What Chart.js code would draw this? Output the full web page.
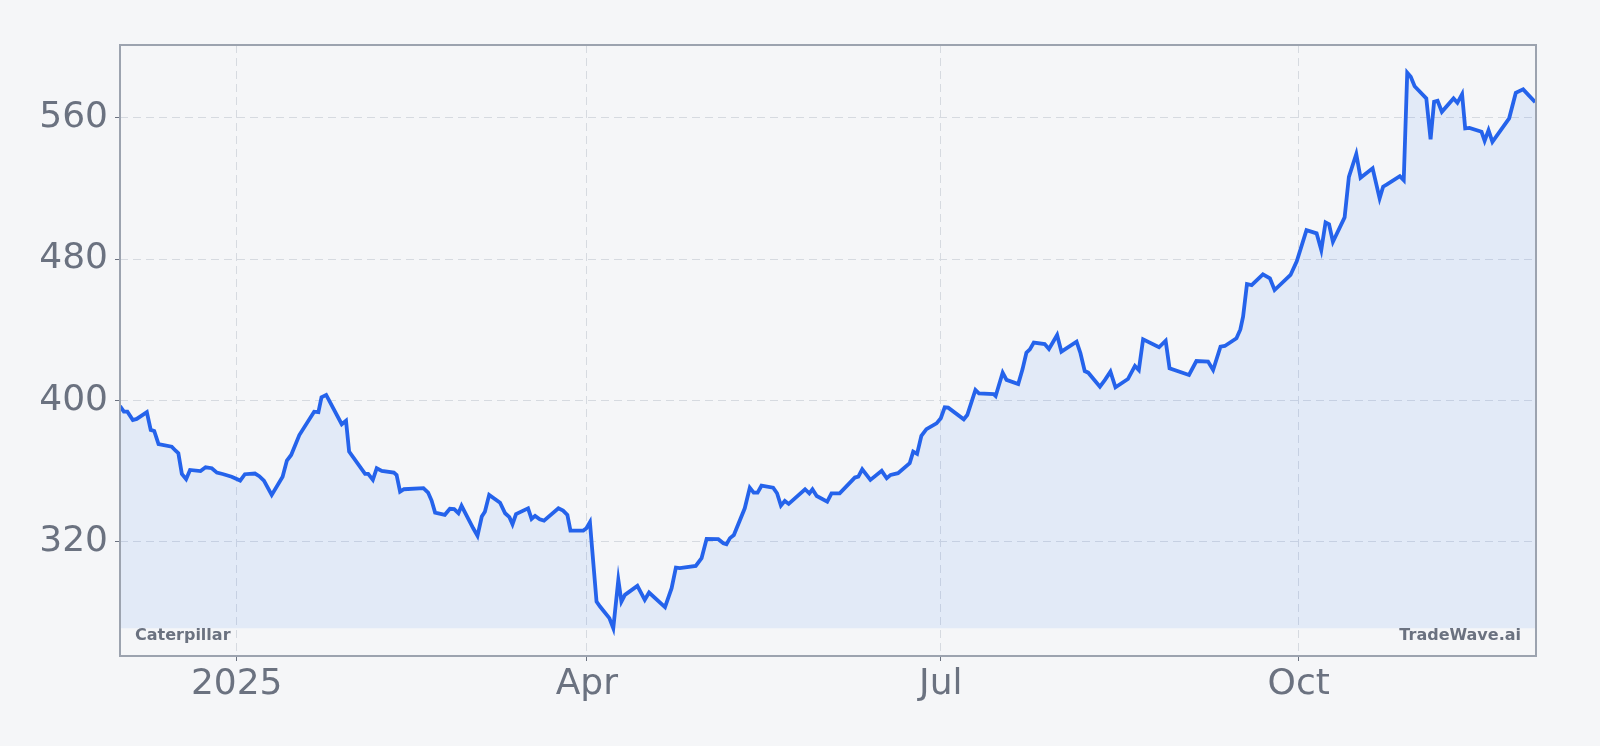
<!DOCTYPE html>
<html>
<head>
<meta charset="utf-8">
<script src="https://cdn.jsdelivr.net/npm/chart.js@4.4.1/dist/chart.umd.min.js"></script>
<style>
html,body{margin:0;padding:0;background:#f5f6f8;}
#wrap{width:1600px;height:746px;position:relative;}
</style>
</head>
<body>
<div id="wrap"><canvas id="c"></canvas></div>
<script>
// Days counted from 2025-01-01 (negative = December 2024)
const days = [
-30.0,-29.0,-28.1,-26.7,-25.7,-23.1,-22.1,-21.2,-20.1,-16.7,-15.7,-15.0,-14.1,-13.0,-12.0,-9.3,-8.0,-6.4,-5.1,-3.4,-1.3,
0.9,2.1,4.7,5.8,7.0,9.0,11.8,12.9,14.0,16.1,19.9,21.0,21.8,23.0,27.0,28.1,28.9,
33.0,33.8,35.0,36.0,37.3,40.4,41.1,42.0,43.0,48.0,49.2,50.1,51.0,53.5,54.8,55.9,57.0,57.8,
60.8,61.9,63.0,63.8,64.9,67.7,69.0,70.1,70.9,71.8,74.9,75.8,76.7,77.9,79.0,82.7,83.9,85.0,85.8,89.1,89.9,
90.8,92.5,93.4,95.8,96.8,98.1,98.9,99.8,103.0,104.9,106.0,110.1,111.8,112.9,113.9,118.0,119.5,
120.8,123.8,125.1,125.9,126.8,127.8,130.6,131.9,132.9,133.9,134.9,137.9,138.9,139.9,140.9,141.9,146.1,147.2,148.0,149.1,
151.8,152.9,155.0,158.9,159.8,160.8,162.9,165.8,167.1,168.1,170.0,173.0,173.9,174.9,176.0,177.3,179.9,
181.0,182.0,182.9,186.9,187.8,189.9,190.8,194.6,195.1,196.9,197.9,200.9,202.0,203.0,203.9,204.9,207.7,208.8,210.9,
212.0,215.9,216.9,218.0,218.9,221.9,223.2,224.6,225.9,229.1,230.9,231.9,233.0,237.1,238.8,239.8,
244.8,246.7,249.7,251.0,252.9,254.0,257.0,258.0,258.7,259.7,260.9,263.8,265.6,266.8,270.9,272.5,
275.0,277.6,278.8,279.9,280.8,281.8,284.8,285.9,287.8,288.9,292.0,293.8,294.7,295.7,299.0,300.0,
300.9,301.8,302.8,305.8,306.9,307.8,308.7,309.8,312.8,313.8,315.0,315.8,316.9,320.0,320.8,321.8,322.8,
327.1,328.8,330.7,333.8
];
const prices = [
396.8,393.6,393.6,388.9,389.5,393.3,383.3,382.7,375.3,373.8,371.5,370.1,358.4,355.4,360.6,360.0,362.1,361.6,359.1,358.2,356.8,
354.6,358.2,358.6,357.1,354.6,346.5,356.8,365.9,369.1,380.4,393.6,393.3,401.8,403.1,386.5,388.5,371.0,
358.4,358.4,355.0,361.6,360.1,359.1,357.8,348.3,349.7,350.3,347.8,343.3,336.5,335.2,338.6,338.4,336.1,340.3,
327.6,323.3,334.2,337.0,346.5,342.1,336.1,333.9,329.9,335.6,338.9,332.9,334.6,332.7,331.9,338.9,337.6,335.2,326.3,326.3,327.6,
331.0,286.1,283.3,276.7,271.0,298.4,286.1,289.9,295.0,287.1,291.2,282.9,293.7,305.3,305.0,306.3,310.7,
321.6,321.4,319.1,318.6,322.0,323.8,338.9,350.6,347.8,347.8,351.7,350.6,347.4,340.4,343.1,341.4,349.7,347.4,349.7,345.9,
342.7,347.4,347.4,356.3,356.8,361.0,355.0,360.1,355.9,357.8,358.8,364.4,371.0,369.7,379.9,383.7,387.0,
389.9,396.1,395.9,389.3,391.7,405.9,404.0,403.6,402.5,415.7,411.6,409.3,417.6,427.0,428.9,432.7,431.9,429.1,437.0,
427.6,433.2,426.7,416.6,415.7,407.8,411.6,416.3,407.4,412.1,419.5,417.2,434.6,430.1,433.8,418.2,
414.4,422.3,422.0,417.2,430.4,430.8,435.2,440.2,447.4,465.9,465.3,471.4,469.1,462.5,471.0,478.8,
496.4,494.6,485.1,500.8,499.7,489.8,503.6,526.6,539.5,526.0,531.4,514.4,521.0,522.3,527.0,524.7,
585.5,583.2,577.9,571.0,547.8,569.1,569.6,563.4,571.0,568.5,573.4,554.0,554.3,552.1,547.0,553.0,546.4,
559.7,574.1,576.1,568.9
];
const tickDays = [0, 90, 181, 273];
const tickLabels = ['2025', 'Apr', 'Jul', 'Oct'];
const yTicks = [320, 400, 480, 560];
const xRange = [-30, 334];
const seriesName = 'Caterpillar';
const watermark = 'TradeWave.ai';

const minP = Math.min(...prices), maxP = Math.max(...prices);
const padY = (maxP - minP) * 0.05;
const points = days.map((d, i) => ({x: d, y: prices[i]}));

const TXT = '#6b7280';
const FONT = "'DejaVu Sans', sans-serif";
const GRID = '#d6dae0';

const framePlugin = {
  id: 'frame',
  beforeDraw(chart) {
    const ctx = chart.ctx;
    ctx.save();
    ctx.fillStyle = '#f5f6f8';
    ctx.fillRect(0, 0, chart.width, chart.height);
    ctx.restore();
  },
  afterDraw(chart) {
    const {ctx, chartArea: a} = chart;
    ctx.save();
    ctx.strokeStyle = '#9ca3af';
    ctx.lineWidth = 2;
    ctx.strokeRect(a.left, a.top, a.right - a.left, a.bottom - a.top);
    ctx.fillStyle = TXT;
    ctx.font = "bold 16px " + FONT;
    ctx.textBaseline = 'alphabetic';
    ctx.textAlign = 'left';
    ctx.fillText(seriesName, a.left + 15, a.bottom - 16);
    ctx.textAlign = 'right';
    ctx.fillText(watermark, a.right - 15, a.bottom - 16);
    ctx.restore();
  }
};

new Chart(document.getElementById('c'), {
  type: 'line',
  data: {
    datasets: [{
      label: seriesName,
      data: points,
      borderColor: '#2563eb',
      borderWidth: 3.8,
      pointRadius: 0,
      tension: 0,
      fill: {value: minP},
      backgroundColor: 'rgba(59,130,246,0.1)'
    }]
  },
  options: {
    responsive: true,
    maintainAspectRatio: false,
    animation: false,
    devicePixelRatio: 1,
    layout: {padding: {top: 45, right: 64, left: 0, bottom: 0}},
    plugins: {legend: {display: false}, tooltip: {enabled: false}},
    scales: {
      x: {
        type: 'linear',
        min: xRange[0],
        max: xRange[1],
        afterBuildTicks: s => { s.ticks = tickDays.map(v => ({value: v})); },
        afterFit: s => { s.height = 90; },
        ticks: {
          autoSkip: false, maxRotation: 0, padding: 2,
          color: TXT, font: {family: FONT, size: 36},
          callback: v => tickLabels[tickDays.indexOf(v)]
        },
        grid: {color: GRID, lineWidth: 1, tickLength: 5, tickColor: '#6b7280', tickWidth: 1},
        border: {display: false, dash: [8, 5]}
      },
      y: {
        min: minP - padY,
        max: maxP + padY,
        afterBuildTicks: s => { s.ticks = yTicks.map(v => ({value: v})); },
        afterFit: s => { s.width = 120; },
        ticks: {
          padding: 7, color: TXT, font: {family: FONT, size: 36},
          callback: v => String(v)
        },
        grid: {color: GRID, lineWidth: 1, tickLength: 5, tickColor: '#6b7280', tickWidth: 1},
        border: {display: false, dash: [8, 5]}
      }
    }
  },
  plugins: [framePlugin]
});
</script>
</body>
</html>
